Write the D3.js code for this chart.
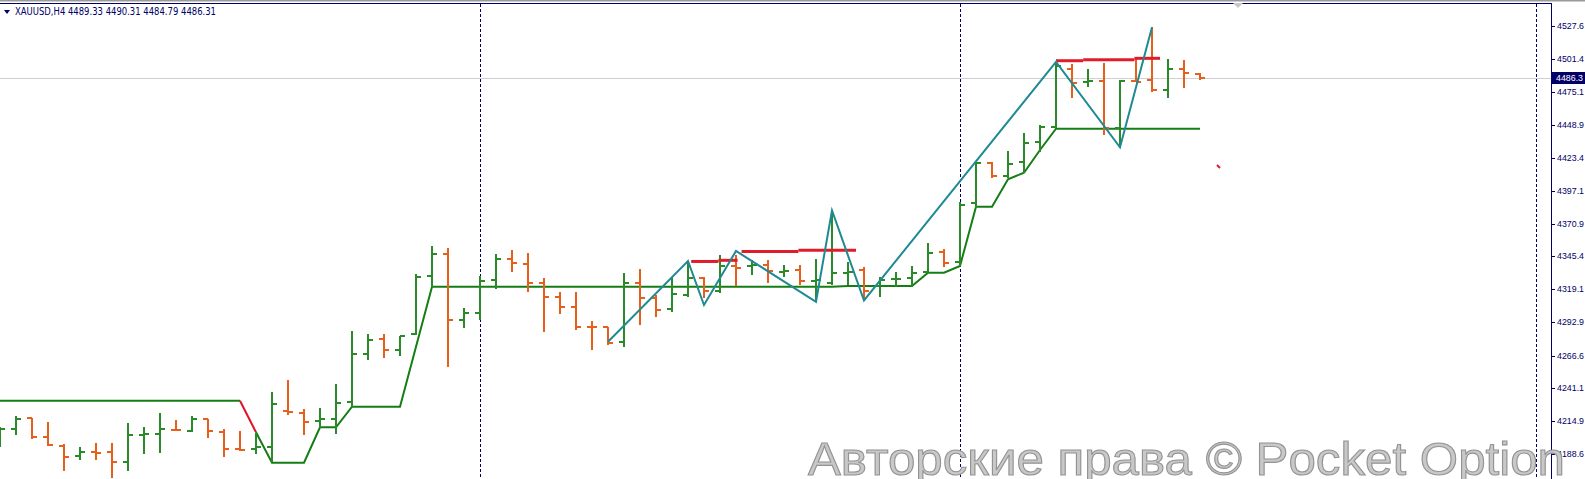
<!DOCTYPE html>
<html>
<head>
<meta charset="utf-8">
<script src="https://cdn.jsdelivr.net/npm/d3@7"></script>
<style>
  html, body { margin: 0; padding: 0; background: #fff; overflow: hidden; }
  svg { display: block; }
</style>
</head>
<body>
<div id="chart"></div>
<script>
const W = 1585, H = 479;
const PLOT_RIGHT = 1551;
const BAR_STEP = 16;

const symbol = "XAUUSD,H4";
const lastQuote = [4489.33, 4490.31, 4484.79, 4486.31];
const currentPrice = 4486.31;

// H4 bars, oldest first
const opens = [4199.7,4208.2,4216.9,4202.3,4195.2,4187.0,4190.4,4190.4,4182.0,4203.8,
  4204.4,4207.6,4207.0,4216.1,4206.3,4192.3,4192.3,4194.4,4223.0,4220.8,
  4215.0,4216.1,4230.0,4267.8,4279.7,4271.0,4283.4,4329.6,4346.8,4294.7,
  4300.5,4326.4,4342.8,4339.1,4323.8,4313.2,4305.3,4289.4,4288.9,4277.5,
  4324.3,4311.9,4303.4,4314.5,4328.2,4317.9,4337.5,4337.5,4338.3,4333.0,
  4334.3,4325.9,4324.0,4332.2,4334.3,4321.7,4327.0,4327.8,4333.0,4348.8,
  4340.9,4387.2,4419.3,4408.8,4420.1,4436.0,4447.4,4493.9,4483.5,4484.3,
  4446.6,4484.4,4484.8,4476.9,4493.5,4489.33];
const highs = [4210.2,4218.7,4216.9,4214.2,4196.3,4194.4,4197.5,4197.5,4212.9,4210.2,
  4220.8,4215.5,4218.7,4216.1,4208.2,4206.8,4205.0,4237.9,4247.2,4224.0,
  4225.4,4243.8,4286.0,4283.4,4283.4,4282.1,4330.9,4353.3,4351.5,4304.0,
  4329.6,4346.8,4350.2,4348.0,4327.8,4317.1,4317.1,4294.2,4289.4,4331.7,
  4334.9,4314.5,4329.0,4340.9,4328.5,4346.2,4346.2,4342.3,4342.3,4338.3,
  4338.3,4342.8,4381.5,4340.9,4336.5,4329.0,4333.0,4337.5,4356.0,4350.7,
  4388.4,4420.1,4420.1,4428.8,4442.6,4449.2,4499.1,4497.3,4493.5,4498.1,
  4484.8,4502.3,4526.6,4501.2,4500.7,4490.31];
const lows = [4194.4,4203.6,4200.2,4194.9,4175.4,4183.8,4183.8,4169.3,4175.1,4188.6,
  4189.6,4206.8,4206.3,4201.5,4186.5,4191.0,4188.6,4182.5,4219.5,4203.6,
  4208.9,4204.4,4226.1,4263.0,4264.4,4266.2,4282.8,4321.1,4257.7,4288.1,
  4294.7,4319.0,4333.0,4317.1,4285.0,4299.5,4286.8,4271.0,4274.9,4273.6,
  4290.8,4296.9,4301.3,4313.2,4311.9,4315.9,4321.7,4330.4,4324.3,4329.0,
  4322.5,4310.6,4322.5,4322.5,4310.6,4312.7,4320.6,4321.1,4332.2,4336.9,
  4337.5,4383.2,4407.0,4407.0,4411.4,4428.0,4446.6,4470.3,4479.5,4441.3,
  4431.5,4483.2,4475.6,4470.3,4478.7,4484.79];
const closes = [4208.2,4216.1,4201.8,4195.7,4186.5,4190.4,4189.6,4182.0,4203.6,4204.2,
  4208.2,4207.4,4216.1,4207.0,4192.3,4191.8,4194.4,4228.0,4222.1,4214.2,
  4216.1,4229.2,4267.8,4278.9,4271.0,4282.1,4329.0,4346.8,4294.7,4300.0,
  4325.9,4342.8,4339.6,4324.3,4313.2,4305.3,4289.4,4288.9,4276.7,4324.3,
  4311.9,4302.7,4315.3,4328.2,4317.9,4337.5,4336.3,4338.3,4333.8,4333.5,
  4325.9,4326.4,4331.7,4332.6,4317.9,4326.4,4327.2,4332.2,4348.0,4339.6,
  4385.8,4419.3,4408.8,4418.3,4435.2,4447.4,4495.9,4482.8,4484.3,4446.6,
  4484.3,4483.6,4476.9,4493.5,4490.6,4486.31];

const priceTicks = [4527.6,4501.4,4475.1,4448.9,4423.4,4397.1,4370.9,4345.4,
  4319.1,4292.9,4266.6,4241.1,4214.9,4188.6];

// period separators (bar index)
const separators = [30, 60, 96];

// trailing stop line [bar, price]
const stopLine = [[16,4205.8],[17,4181.7],[19,4181.7],[20,4209.7],[21,4209.7],[22,4226.1],
  [25,4226.1],[27,4321.1],[52,4321.1],[53,4321.7],[57,4321.7],[58,4332.2],[59,4332.2],
  [60,4337.5],[61,4384.5],[62,4384.5],[63,4406.2],[64,4411.4],[65,4429.4],[66,4446.3],[75,4446.3]];
const stopLineBefore = [[0,4230.8],[15,4230.8]];
const stopFlip = [[15,4230.8],[16,4205.8]];

// zigzag [bar, price]
const zigzag = [[38,4277.5],[43,4341.5],[44,4306.6],[46,4349.4],[51,4309.2],[52,4381.5],
  [54,4310.2],[66,4499.1],[70,4431.5],[72,4526.6]];

// resistance levels [fromBar, toBar, price]
const resistance = [[43.2,44.9,4341.1],[44.9,46.1,4342.0],[46.35,49.9,4348.9],[49.9,53.5,4349.9],
  [66,67.7,4500.1],[67.7,70.9,4500.9],[70.9,72.5,4502.0]];

const bars = opens.map((o, i) => ({i, o, h: highs[i], l: lows[i], c: closes[i]}));

const svg = d3.select("#chart").append("svg")
  .attr("width", W).attr("height", H)
  .style("font-family", "'Liberation Sans', Arial, sans-serif");

const x = d3.scaleLinear().domain([0, PLOT_RIGHT / BAR_STEP]).range([0, PLOT_RIGHT]);
const y = d3.scaleLinear().domain([4188.6, 4527.6]).range([454, 26]);

const navy = "#000066";
const up = "#2a8a2a", down = "#e5601c";

// top frame
svg.append("rect").attr("x", 0).attr("y", 0).attr("width", W).attr("height", 1.5).attr("fill", "#9a9a9a");
svg.append("line").attr("x1", 0).attr("x2", PLOT_RIGHT).attr("y1", 3.5).attr("y2", 3.5)
  .attr("stroke", navy).attr("stroke-width", 1);

// chart shift mark
svg.append("path").attr("d", "M1233,3 L1243,3 L1238,8 Z").attr("fill", "#c8c8c8");

// current price line
svg.append("line")
  .attr("x1", 0).attr("x2", PLOT_RIGHT)
  .attr("y1", Math.round(y(currentPrice)) + 0.5).attr("y2", Math.round(y(currentPrice)) + 0.5)
  .attr("stroke", "#cfcfcf").attr("stroke-width", 1);

// separators
svg.selectAll(".sep").data(separators).enter().append("line")
  .attr("class", "sep")
  .attr("x1", d => x(d) + 0.5).attr("x2", d => x(d) + 0.5)
  .attr("y1", 4).attr("y2", H)
  .attr("stroke", navy).attr("stroke-width", 1).attr("stroke-dasharray", "3,2");

const line = d3.line().x(d => x(d[0])).y(d => y(d[1]));

// stop line
svg.append("path").datum(stopLineBefore).attr("d", line)
  .attr("fill", "none").attr("stroke", "#147d14").attr("stroke-width", 2);
svg.append("path").datum(stopFlip).attr("d", line)
  .attr("fill", "none").attr("stroke", "#e0142a").attr("stroke-width", 2);
svg.append("path").datum(stopLine).attr("d", line)
  .attr("fill", "none").attr("stroke", "#147d14").attr("stroke-width", 2);

// bars
const g = svg.append("g").attr("shape-rendering", "crispEdges");
const bar = g.selectAll(".bar").data(bars).enter().append("g")
  .attr("stroke", d => d.c >= d.o ? up : down).attr("stroke-width", 2);
bar.append("line")
  .attr("x1", d => x(d.i)).attr("x2", d => x(d.i))
  .attr("y1", d => y(d.h)).attr("y2", d => y(d.l));
bar.append("line")
  .attr("x1", d => x(d.i) - 5).attr("x2", d => x(d.i))
  .attr("y1", d => y(d.o)).attr("y2", d => y(d.o));
bar.append("line")
  .attr("x1", d => x(d.i)).attr("x2", d => x(d.i) + 5)
  .attr("y1", d => y(d.c)).attr("y2", d => y(d.c));

// resistance
svg.selectAll(".res").data(resistance).enter().append("line")
  .attr("x1", d => x(d[0])).attr("x2", d => x(d[1]))
  .attr("y1", d => y(d[2])).attr("y2", d => y(d[2]))
  .attr("stroke", "#e01b2a").attr("stroke-width", 3);

// zigzag
svg.append("path").datum(zigzag).attr("d", line)
  .attr("fill", "none").attr("stroke", "#1f8a94").attr("stroke-width", 2);

// stray indicator dot
svg.append("line").attr("x1", 1217).attr("y1", 165).attr("x2", 1220).attr("y2", 168)
  .attr("stroke", "#e01b2a").attr("stroke-width", 2);

// price axis
const axis = svg.append("g");
axis.append("rect").attr("x", PLOT_RIGHT + 1).attr("y", 0).attr("width", W - PLOT_RIGHT).attr("height", H).attr("fill", "#fff");
axis.append("rect").attr("x", PLOT_RIGHT + 1).attr("y", 0).attr("width", W - PLOT_RIGHT).attr("height", 1.5).attr("fill", "#9a9a9a");
axis.append("line").attr("x1", PLOT_RIGHT + 0.5).attr("x2", PLOT_RIGHT + 0.5)
  .attr("y1", 3).attr("y2", H).attr("stroke", navy).attr("stroke-width", 1);
const tick = axis.selectAll(".tick").data(priceTicks).enter().append("g")
  .attr("transform", d => `translate(${PLOT_RIGHT},${Math.round(y(d))})`);
tick.append("line").attr("x1", 0).attr("x2", 4).attr("y1", 0.5).attr("y2", 0.5)
  .attr("stroke", navy);
tick.append("text").attr("x", 6).attr("dy", "0.35em")
  .attr("font-size", 9.5).attr("fill", navy)
  .attr("textLength", 27).attr("lengthAdjust", "spacingAndGlyphs")
  .text(d => d.toFixed(1));

// current price label
const cy = Math.round(y(currentPrice));
axis.append("rect").attr("x", PLOT_RIGHT + 1).attr("y", cy - 6).attr("width", W - PLOT_RIGHT).attr("height", 12)
  .attr("fill", navy);
axis.append("text").attr("x", PLOT_RIGHT + 5).attr("y", cy).attr("dy", "0.35em")
  .attr("font-size", 9.5).attr("fill", "#fff")
  .attr("textLength", 27).attr("lengthAdjust", "spacingAndGlyphs")
  .text(currentPrice.toFixed(1));

// header
svg.append("path").attr("d", "M4,10 L10,10 L7,14 Z").attr("fill", navy);
svg.append("text").attr("x", 15).attr("y", 15)
  .attr("font-family", "Tahoma, 'DejaVu Sans', sans-serif")
  .attr("font-size", 10).attr("fill", navy)
  .attr("textLength", 201).attr("lengthAdjust", "spacingAndGlyphs")
  .text(symbol + "  " + lastQuote.map(v => v.toFixed(2)).join(" "));

// watermark on top of everything
svg.append("text")
  .attr("x", 808).attr("y", 475)
  .attr("font-size", 47)
  .attr("fill", "#c8c8c8").attr("stroke", "#939393").attr("stroke-width", 1.1)
  .attr("textLength", 757).attr("lengthAdjust", "spacingAndGlyphs")
  .text("Авторские права © Pocket Option");
</script>
</body>
</html>
